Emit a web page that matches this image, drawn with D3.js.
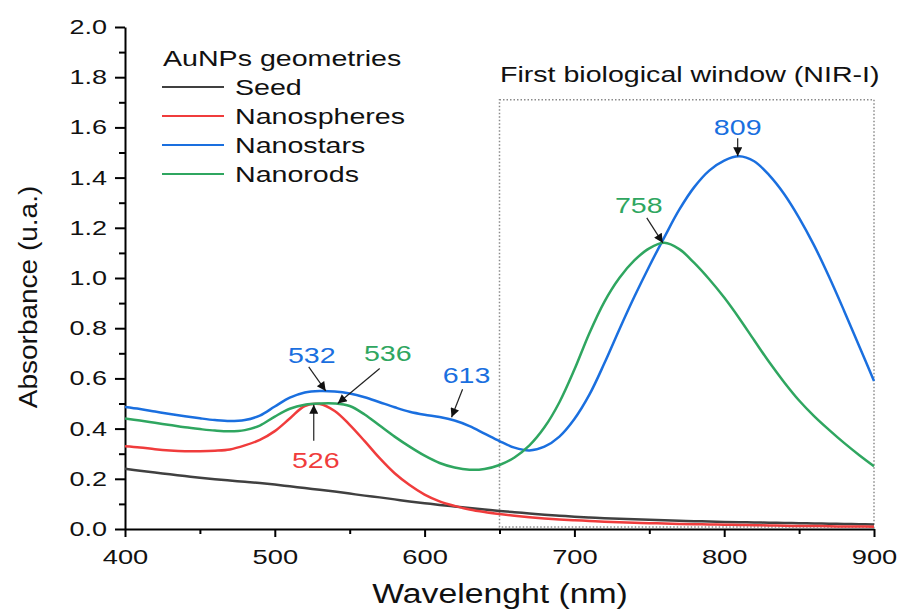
<!DOCTYPE html>
<html>
<head>
<meta charset="utf-8">
<script src="https://cdn.jsdelivr.net/npm/d3@7"></script>
<style>
	body { margin: 0; background: #fff; }
	svg { display: block; font-family: "Liberation Sans", Arial, sans-serif; }
	.axis path, .axis line { stroke: #000; stroke-width: 2; }
	.axis text { fill: #111; }
</style>
</head>
<body>
<div id="chart"></div>
<script>
//Data
var wavelengths = [400,410,420,430,440,450,460,470,480,490,
	500,510,520,530,540,550,560,570,580,590,
	600,610,620,630,640,650,660,670,680,690,
	700,710,720,730,740,750,760,770,780,790,
	800,810,820,830,840,850,860,870,880,890,900];

var seed = [.240,.232,.225,.218,.211,.204,.198,.193,.188,.183,
	.177,.170,.163,.156,.149,.141,.133,.126,.118,.110,
	.103,.096,.090,.084,.078,.072,.067,.062,.057,.053,
	.049,.046,.043,.041,.039,.037,.035,.033,.031,.030,
	.028,.027,.026,.025,.024,.023,.022,.021,.020,.019,.018];

var nanospheres = [.330,.325,.318,.313,.310,.310,.312,.317,.333,.355,
	.390,.440,.490,.498,.470,.415,.350,.282,.222,.175,
	.137,.110,.092,.078,.068,.060,.053,.047,.042,.038,
	.035,.032,.029,.027,.025,.023,.022,.020,.019,.018,
	.017,.016,.015,.014,.013,.012,.012,.011,.010,.010,.009];

var nanostars = [.486,.478,.468,.458,.449,.441,.434,.430,.434,.452,
	.488,.523,.544,.550,.548,.540,.525,.505,.485,.467,
	.455,.446,.432,.410,.380,.350,.324,.313,.328,.368,
	.438,.535,.660,.795,.925,1.047,1.162,1.272,1.362,1.428,
	1.468,1.485,1.465,1.410,1.335,1.240,1.130,1.005,.870,.730,.590];

var nanorods = [.440,.432,.423,.414,.405,.398,.392,.389,.394,.412,
	.448,.479,.495,.500,.500,.490,.456,.412,.368,.328,
	.292,.263,.245,.236,.239,.255,.285,.333,.405,.505,
	.635,.780,.905,1.000,1.070,1.118,1.140,1.115,1.060,.995,
	.922,.840,.752,.665,.585,.512,.450,.395,.343,.295,.250];

var seriesNames = ["Seed", "Nanospheres", "Nanostars", "Nanorods"];
var seriesColors = ["#404040", "#f03c3c", "#1a6fdf", "#2fa660"];
var seriesValues = [seed, nanospheres, nanostars, nanorods];

var xMajorTicks = [400, 500, 600, 700, 800, 900];
var xMinorTicks = [450, 550, 650, 750, 850];
var yMajorTicks = [0, 0.2, 0.4, 0.6, 0.8, 1.0, 1.2, 1.4, 1.6, 1.8, 2.0];
var yMinorTicks = [0.1, 0.3, 0.5, 0.7, 0.9, 1.1, 1.3, 1.5, 1.7, 1.9];

//peak labels: target point (nm, absorbance), series index
var peakLabels = ["809", "758", "532", "536", "526", "613"];
var peakNm = [809, 759, 534, 542, 526, 618];
var peakAbs = [1.485, 1.14, 0.55, 0.50, 0.495, 0.445];
var peakSeries = [2, 3, 2, 3, 1, 2];

//NIR-I window
var windowNm = [650, 900];
var windowAbs = [0.008, 1.71];

//SVG setup
var width = 898, height = 609;
var textStretch = 1.3;

var svg = d3.select("#chart")
	.append("svg")
	.attr("width", width)
	.attr("height", height);

var x = d3.scaleLinear().domain([400, 900]).range([125, 874]);
var y = d3.scaleLinear().domain([0, 2]).range([529, 27]);

//stretch text horizontally (reference glyphs are wide)
var stretch = function(sel, sx) {
	sel.each(function() {
		var t = d3.select(this);
		var tx = +t.attr("x") || 0;
		t.attr("x", 0).attr("transform", "translate(" + tx + ",0) scale(" + sx + ",1)");
	});
};

svg.append("defs").append("marker")
	.attr("id", "arrow")
	.attr("markerUnits", "userSpaceOnUse")
	.attr("viewBox", "0 0 10 10")
	.attr("refX", 10)
	.attr("refY", 5)
	.attr("markerWidth", 11)
	.attr("markerHeight", 9)
	.attr("orient", "auto")
	.append("path")
	.attr("d", "M0,0 L10,5 L0,10 z")
	.attr("fill", "#111");

//NIR-I dotted window
svg.append("rect")
	.attr("x", x(windowNm[0]))
	.attr("y", y(windowAbs[1]))
	.attr("width", x(windowNm[1]) - x(windowNm[0]))
	.attr("height", y(windowAbs[0]) - y(windowAbs[1]))
	.attr("fill", "none")
	.attr("stroke", "#8a8a8a")
	.attr("stroke-width", 1.5)
	.attr("stroke-dasharray", "1.5,2");

svg.append("text")
	.attr("class", "window-label")
	.attr("x", (x(windowNm[0]) + x(windowNm[1])) / 2 + 3)
	.attr("y", 82)
	.attr("text-anchor", "middle")
	.attr("font-size", 22)
	.attr("fill", "#111")
	.text("First biological window (NIR-I)")
	.call(stretch, textStretch);

//Axes
var yAxis = svg.append("g")
	.attr("class", "y axis")
	.attr("transform", "translate(" + x(400) + ",0)")
	.call(d3.axisLeft(y).tickValues(yMajorTicks).tickSize(10).tickSizeOuter(0).tickPadding(8).tickFormat(d3.format(".1f")));
yAxis.selectAll("text").attr("font-size", 20).call(stretch, 1.35);

svg.append("g")
	.attr("class", "y axis minor")
	.attr("transform", "translate(" + x(400) + ",0)")
	.call(d3.axisLeft(y).tickValues(yMinorTicks).tickSize(6).tickSizeOuter(0).tickFormat(""))
	.select(".domain").remove();

var xAxis = svg.append("g")
	.attr("class", "x axis")
	.attr("transform", "translate(0," + y(0) + ")")
	.call(d3.axisBottom(x).tickValues(xMajorTicks).tickSize(8).tickSizeOuter(0).tickPadding(12).tickFormat(d3.format("d")));
xAxis.selectAll("text").attr("font-size", 21).call(stretch, 1.3);

svg.append("g")
	.attr("class", "x axis minor")
	.attr("transform", "translate(0," + y(0) + ")")
	.call(d3.axisBottom(x).tickValues(xMinorTicks).tickSize(5).tickSizeOuter(0).tickFormat(""))
	.select(".domain").remove();

//Axis labels
svg.append("text")
	.attr("class", "axis-label")
	.attr("transform", "translate(500,603) scale(1.25,1)")
	.attr("text-anchor", "middle")
	.attr("font-size", 27)
	.attr("fill", "#111")
	.text("Wavelenght (nm)");

svg.append("text")
	.attr("class", "axis-label")
	.attr("transform", "translate(37,297) rotate(-90) scale(1.12,1)")
	.attr("text-anchor", "middle")
	.attr("font-size", 25)
	.attr("fill", "#111")
	.text("Absorbance (u.a.)");

//Curves
var line = d3.line()
	.x(function(d) { return x(d[0]); })
	.y(function(d) { return y(d[1]); })
	.curve(d3.curveCatmullRom.alpha(0.5));

svg.selectAll(".curve")
	.data(seriesValues)
	.enter()
	.append("path")
	.attr("class", "curve")
	.attr("fill", "none")
	.attr("stroke", function(d, i) { return seriesColors[i]; })
	.attr("stroke-width", 2.5)
	.attr("stroke-linejoin", "round")
	.attr("d", function(vals) {
		return line(vals.map(function(v, i) { return [wavelengths[i], v]; }));
	});

//Peak annotations (label and arrow tail offsets in px from the target point)
var labelOffsets = [[0, -21], [-24, -30], [-14, -28], [50, -43], [2, 63], [15, -34]];
var tailOffsets = [[0, -18], [-16, -25], [-17, -24], [42, -35], [0, 36], [11, -28]];

var peaks = svg.selectAll(".peak")
	.data(peakLabels)
	.enter()
	.append("g")
	.attr("class", "peak")
	.attr("transform", function(d, i) {
		return "translate(" + x(peakNm[i]) + "," + y(peakAbs[i]) + ")";
	});

peaks.append("line")
	.attr("x1", function(d, i) { return tailOffsets[i][0]; })
	.attr("y1", function(d, i) { return tailOffsets[i][1]; })
	.attr("x2", 0)
	.attr("y2", 0)
	.attr("stroke", "#222")
	.attr("stroke-width", 1.2)
	.attr("marker-end", "url(#arrow)");

peaks.append("text")
	.attr("x", function(d, i) { return labelOffsets[i][0]; })
	.attr("y", function(d, i) { return labelOffsets[i][1]; })
	.attr("text-anchor", "middle")
	.attr("font-size", 22)
	.attr("fill", function(d, i) { return seriesColors[peakSeries[i]]; })
	.text(function(d) { return d; })
	.call(stretch, textStretch);

//Legend
var legend = svg.append("g")
	.attr("class", "legend")
	.attr("transform", "translate(162,0)");

legend.append("text")
	.attr("x", 1)
	.attr("y", 66)
	.attr("font-size", 22)
	.attr("fill", "#111")
	.text("AuNPs geometries")
	.call(stretch, textStretch);

var items = legend.selectAll(".item")
	.data(seriesNames)
	.enter()
	.append("g")
	.attr("class", "item")
	.attr("transform", function(d, i) { return "translate(0," + (87 + i * 29) + ")"; });

items.append("line")
	.attr("x1", 0)
	.attr("x2", 62)
	.attr("stroke", function(d, i) { return seriesColors[i]; })
	.attr("stroke-width", 2.2);

items.append("text")
	.attr("x", 73)
	.attr("y", 8)
	.attr("font-size", 22)
	.attr("fill", "#111")
	.text(function(d) { return d; })
	.call(stretch, textStretch);
</script>
</body>
</html>
